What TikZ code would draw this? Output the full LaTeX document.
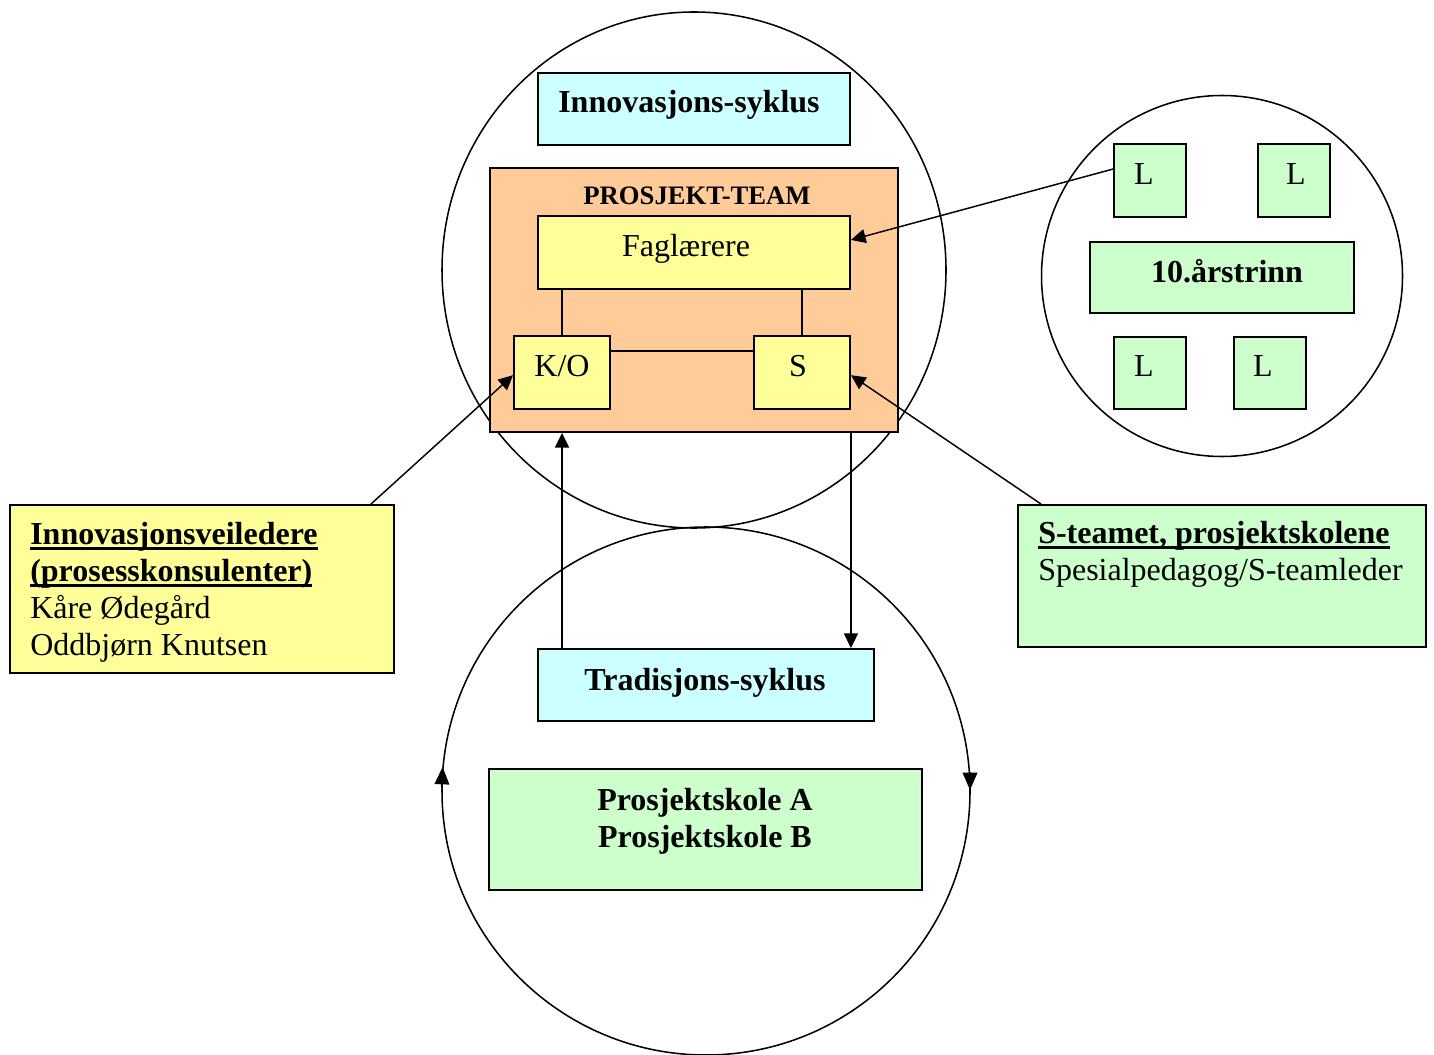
\documentclass[tikz,border=0pt]{standalone}
\usepackage{fontspec}
\setmainfont{Liberation Serif}
\usetikzlibrary{arrows.meta}
\definecolor{cyanbox}{HTML}{CCFFFF}
\definecolor{orangebox}{HTML}{FFCC99}
\definecolor{yellowbox}{HTML}{FFFF99}
\definecolor{greenbox}{HTML}{CCFFCC}
\newcommand\ulin[1]{\setbox0=\hbox{#1}\rlap{\rule[-4.2pt]{\wd0}{1.9pt}}\box0}
\begin{document}
\begin{tikzpicture}[x=0.75pt,y=-0.75pt,
  bx/.style={draw=black, line width=1.4pt, inner sep=0pt},
  conn/.style={draw=black, line width=1.1pt},
  arr/.style={conn, -{Triangle[length=11pt,width=10.5pt]}},
  ringarr/.style={conn, -{Triangle[length=13pt,width=11pt]}},
  ring/.style={draw=black, line width=1.15pt},
  big/.style={font=\fontsize{24pt}{27.75pt}\selectfont, inner sep=0pt},
  bigb/.style={font=\fontsize{24pt}{27.75pt}\selectfont\bfseries, inner sep=0pt},
  mid/.style={font=\fontsize{20pt}{24pt}\selectfont\bfseries, inner sep=0pt}]
\useasboundingbox (0,0) rectangle (1434,1055);
\fill[white] (0,0) rectangle (1434,1055);

% circles
\draw[ring] (694,270) ellipse [x radius=252, y radius=258];
\draw[ring] (1222,276) circle [radius=180.5];
\draw[ring] (706,791) circle [radius=264];
\draw[ringarr] (441.8,788) -- (442.6,767);
\draw[ringarr] (970,772) -- (970,790);

% top group
\node[bx, fill=cyanbox, minimum width=312*0.75pt, minimum height=72*0.75pt] (inno) at (694,109) {};
\node[bigb, anchor=base] (innoT) at (689,113) {Innovasjons-syklus};

\node[bx, fill=orangebox, minimum width=408*0.75pt, minimum height=264*0.75pt] (team) at (694,300) {};
\node[mid, anchor=base] (teamT) at (697,205) {PROSJEKT-TEAM};

\node[bx, fill=yellowbox, minimum width=312*0.75pt, minimum height=73*0.75pt] (fag) at (694,252.5) {};
\node[big, anchor=base] (fagT) at (686,257) {Faglærere};

\node[bx, fill=yellowbox, minimum width=96*0.75pt, minimum height=73*0.75pt] (ko) at (562,372.5) {};
\node[big, anchor=base] (koT) at (562,376) {K/O};

\node[bx, fill=yellowbox, minimum width=96*0.75pt, minimum height=73*0.75pt] (s) at (802,372.5) {};
\node[big, anchor=base] (sT) at (798,376) {S};

\draw[conn] (fag.south -| ko) -- (ko.north);
\draw[conn] (fag.south -| s) -- (s.north);
\draw[conn] ([yshift=16pt]ko.east) -- ([yshift=16pt]s.west);

% right circle group
\node[bx, fill=greenbox, minimum width=72*0.75pt, minimum height=73*0.75pt] (L1) at (1150,180.5) {};
\node[big, anchor=base] (L1T) at (1144,185) {L};
\node[bx, fill=greenbox, minimum width=72*0.75pt, minimum height=73*0.75pt] (L2) at (1294,180.5) {};
\node[big, anchor=base] (L2T) at (1296,185) {L};
\node[bx, fill=greenbox, minimum width=264*0.75pt, minimum height=71*0.75pt] (yr) at (1222,277.5) {};
\node[bigb, anchor=base] (yrT) at (1227,283) {10.årstrinn};
\node[bx, fill=greenbox, minimum width=72*0.75pt, minimum height=72*0.75pt] (L3) at (1150,373) {};
\node[big, anchor=base] (L3T) at (1144,377) {L};
\node[bx, fill=greenbox, minimum width=72*0.75pt, minimum height=72*0.75pt] (L4) at (1270,373) {};
\node[big, anchor=base] (L4T) at (1263,377) {L};

% side boxes
\node[bx, fill=yellowbox, minimum width=384*0.75pt, minimum height=168*0.75pt] (iv) at (202,589) {};
\node[bigb, anchor=base west] (ivT1) at (30,544) {\ulin{Innovasjonsveiledere}};
\node[bigb, anchor=base west] (ivT2) at (30,581) {\ulin{(prosesskonsulenter)}};
\node[big, anchor=base west] (ivT3) at (30,618) {Kåre Ødegård};
\node[big, anchor=base west] (ivT4) at (30,655) {Oddbjørn Knutsen};

\node[bx, fill=greenbox, minimum width=408*0.75pt, minimum height=142*0.75pt] (st) at (1222,576) {};
\node[bigb, anchor=base west] (stT1) at (1038,543) {\ulin{S-teamet, prosjektskolene}};
\node[big, anchor=base west] (stT2) at (1038,580) {Spesialpedagog/S-teamleder};

% bottom group
\node[bx, fill=cyanbox, minimum width=336*0.75pt, minimum height=72*0.75pt] (trad) at (706,685) {};
\node[bigb, anchor=base] (tradT) at (705,690) {Tradisjons-syklus};

\node[bx, fill=greenbox, minimum width=433*0.75pt, minimum height=121*0.75pt] (psk) at (705.5,829.5) {};
\node[bigb, anchor=base] (pskT1) at (705,810) {Prosjektskole A};
\node[bigb, anchor=base] (pskT2) at (705,847) {Prosjektskole B};

% connectors
\draw[arr] ([yshift=8.6pt]L1.west) -- ([yshift=9.4pt]fag.east);
\draw[arr] ([xshift=-18pt]iv.north east) -- ([yshift=-2pt]ko.west);
\draw[arr] ([xshift=18pt]st.north west) -- ([yshift=-2pt]s.east);
\draw[arr] (trad.north -| ko) -- (team.south -| ko);
\draw[arr] (team.south -| fag.east) -- (trad.north -| fag.east);
\end{tikzpicture}
\end{document}
